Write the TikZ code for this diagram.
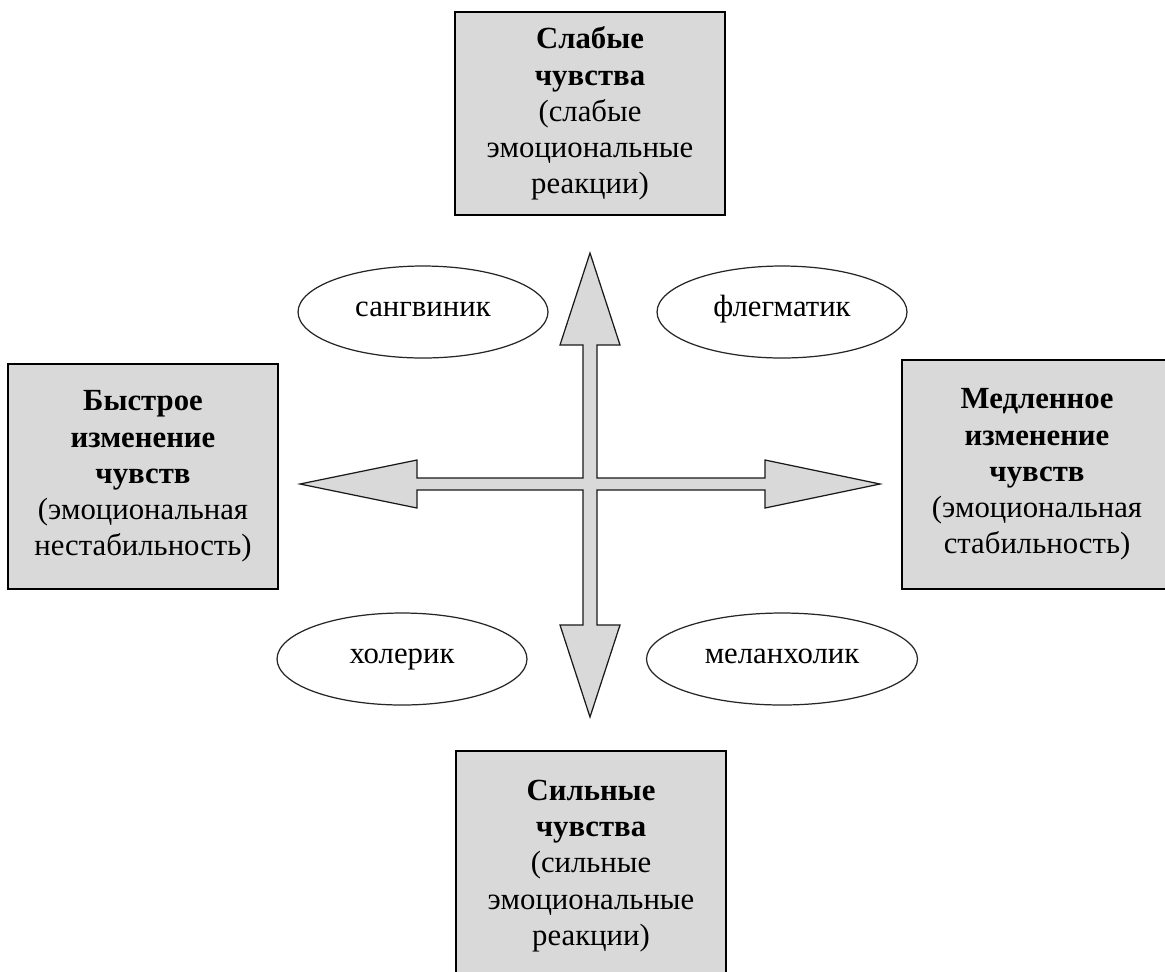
\documentclass[tikz,border=0pt]{standalone}
\usepackage{fontspec}
\setmainfont{Liberation Serif}
\usepackage{tikz}
\usetikzlibrary{shapes.geometric}
\definecolor{feelgray}{HTML}{D9D9D9}
\tikzset{
  feel/.style={draw=black, line width=0.9pt, fill=feelgray, minimum width=5.4cm,
    text width=5.2cm, inner sep=0pt, align=center, font=\fontsize{17.5}{20.6}\selectfont},
  temper/.style={ellipse, draw=black!85, line width=0.7pt, inner sep=0pt,
    minimum width=5cm, minimum height=1.84cm, text height=0.5em, text depth=0em,
    font=\fontsize{17.5}{20.6}\selectfont},
  cross/.style={draw=black!90, line width=0.7pt, fill=feelgray, line join=miter}
}
\begin{document}
\begin{tikzpicture}[x=0.02cm, y=-0.02cm]
\clip (0,0) rectangle (1165,971);
\fill[white] (0,0) rectangle (1165,971);
\node[feel, minimum height=4.06cm] (weak) at (590,113.5)
  {\textbf{Слабые}\\ \textbf{чувства}\\ (слабые\\ эмоциональные\\ реакции)};
\node[feel, minimum height=4.5cm] (fast) at (143,476.5)
  {\textbf{Быстрое}\\ \textbf{изменение}\\ \textbf{чувств}\\ (эмоциональная\\ нестабильность)};
\node[feel, minimum height=4.58cm] (slow) at (1037,474.5)
  {\textbf{Медленное}\\ \textbf{изменение}\\ \textbf{чувств}\\ (эмоциональная\\ стабильность)};
\node[feel, minimum height=4.6cm] (strong) at (591,866)
  {\textbf{Сильные}\\ \textbf{чувства}\\ (сильные\\ эмоциональные\\ реакции)};
\node[temper] (sang) at (423,312) {сангвиник};
\node[temper] (phleg) at (782,312) {флегматик};
\node[temper] (chol) at (402,659) {холерик};
\node[temper, minimum width=5.42cm] (melan) at (782,659) {меланхолик};
\begin{scope}[shift={(590,484)}]
\draw[cross] (0,-231) -- (30,-139) -- (7,-139) -- (7,-6) -- (175,-6) -- (175,-24)
  -- (290,0) -- (175,24) -- (175,6) -- (7,6) -- (7,141) -- (30,141) -- (0,233)
  -- (-30,141) -- (-7,141) -- (-7,6) -- (-173,6) -- (-173,24) -- (-290,0)
  -- (-173,-24) -- (-173,-6) -- (-7,-6) -- (-7,-139) -- (-30,-139) -- cycle;
\end{scope}
\end{tikzpicture}
\end{document}
